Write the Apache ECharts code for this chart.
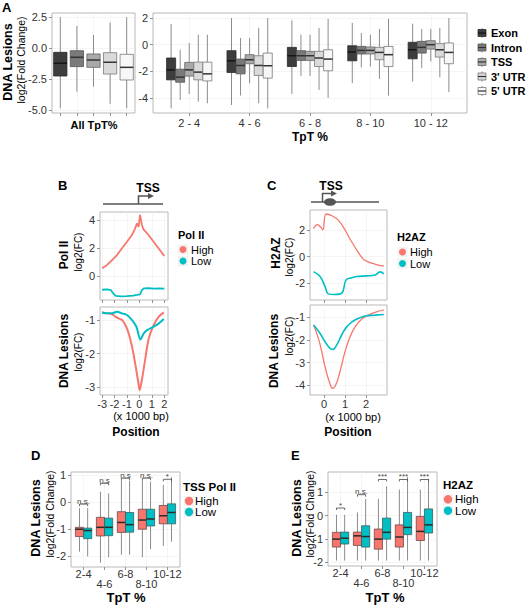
<!DOCTYPE html>
<html><head><meta charset="utf-8">
<script src="https://cdn.jsdelivr.net/npm/echarts@6/dist/echarts.min.js"></script>
<style>html,body{margin:0;padding:0;background:#fff}#c{width:528px;height:607px}</style>
</head><body><div id="c"></div>
<script>
const FONT = "'Liberation Sans', Arial, Helvetica, sans-serif";

// ---------- Panel A data: [min, q1, median, q3, max] ----------
const regionNames = ['Exon', 'Intron', 'TSS', "3' UTR", "5' UTR"];
const tptBins = ['2 - 4', '4 - 6', '6 - 8', '8 - 10', '10 - 12'];
const allTpTBoxes = [
  [-4.86, -2.26, -1.23, -0.35, 2.48],
  [-3.52, -1.50, -0.75, -0.22, 1.77],
  [-3.12, -1.56, -0.97, -0.48, 1.05],
  [-4.50, -2.10, -1.15, -0.38, 2.04],
  [-4.86, -2.58, -1.56, -0.51, 2.48]
];
const exonBoxes = [[-4.78,-2.64,-1.89,-1.00,1.56],[-4.53,-2.09,-1.21,-0.45,2.00],[-3.70,-1.64,-0.83,-0.20,1.83],[-2.89,-1.21,-0.55,-0.08,1.64],[-2.77,-1.06,-0.38,0.18,1.58]];
const intronBoxes = [[-4.15,-2.82,-2.44,-1.84,-0.38],[-3.82,-2.19,-1.56,-1.08,0.50],[-2.34,-1.18,-0.83,-0.45,0.75],[-1.71,-0.70,-0.43,-0.13,0.88],[-1.76,-0.63,-0.20,0.25,1.18]];
const tssBoxes = [[-3.70,-2.36,-1.89,-1.33,0.13],[-2.89,-1.43,-1.13,-0.75,0.50],[-2.34,-1.18,-0.83,-0.50,0.75],[-1.64,-0.70,-0.43,-0.17,0.75],[-1.26,-0.33,0.00,0.30,1.18]];
const utr3Boxes = [[-4.28,-2.64,-2.06,-1.31,0.75],[-4.40,-2.31,-1.56,-0.83,1.26],[-3.40,-1.64,-1.00,-0.50,1.26],[-2.57,-1.13,-0.58,-0.20,1.18],[-2.44,-0.93,-0.38,0.08,1.26]];
const utr5Boxes = [[-4.40,-2.72,-2.19,-1.31,0.75],[-4.78,-2.51,-1.58,-0.63,2.00],[-4.00,-1.96,-1.08,-0.38,1.94],[-3.82,-1.64,-0.75,-0.13,1.94],[-3.57,-1.43,-0.58,0.13,2.00]];

// ---------- Panel B data (position x 1000 bp) ----------
const polHighTopX = [-3.0,-2.6,-2.2,-1.8,-1.4,-1.0,-0.6,-0.34,-0.2,-0.07,0.05,0.2,0.33,0.73,1.14,1.54,2.0];
const polHighTopY = [0.55,0.79,1.14,1.5,1.98,2.45,2.93,3.4,3.76,3.5,4.36,3.64,3.33,2.93,2.45,1.98,1.43];
const polLowTopX = [-3.0,-2.6,-2.3,-2.1,-1.9,-1.5,-1.0,-0.5,-0.2,0.05,0.2,0.35,0.7,1.2,1.6,2.0];
const polLowTopY = [-0.98,-0.95,-1.0,-1.25,-1.42,-1.45,-1.43,-1.4,-1.35,-1.3,-1.0,-0.88,-0.87,-0.9,-0.88,-0.9];
const polHighLesX = [-3.0,-2.6,-2.2,-1.8,-1.4,-1.13,-0.86,-0.59,-0.32,-0.1,0.02,0.2,0.48,0.75,1.15,1.56,1.96];
const polHighLesY = [-0.77,-0.8,-0.83,-0.93,-1.0,-1.15,-1.4,-1.8,-2.34,-2.84,-3.09,-2.79,-2.14,-1.55,-1.15,-0.9,-0.77];
const polLowLesX = [-3.0,-2.6,-2.2,-1.8,-1.4,-1.0,-0.59,-0.24,0.08,0.35,0.62,1.15,1.56,1.96];
const polLowLesY = [-0.78,-0.8,-0.8,-0.75,-0.8,-0.85,-1.0,-1.2,-1.58,-1.4,-1.3,-1.2,-1.1,-0.97];

// ---------- Panel C data ----------
const h2azHighTopX = [-0.5,-0.32,-0.15,-0.06,0.1,0.4,0.7,1.0,1.3,1.6,1.85,2.1,2.45,2.85];
const h2azHighTopY = [2.1,2.4,2.2,2.0,3.2,3.05,2.7,2.0,1.15,0.4,-0.15,-0.4,-0.58,-0.72];
const h2azLowTopX = [-0.5,-0.19,0.05,0.2,0.5,0.84,1.05,1.3,1.56,2.03,2.43,2.67,2.85];
const h2azLowTopY = [-1.13,-1.5,-2.26,-2.8,-2.85,-2.75,-1.75,-1.6,-1.5,-1.45,-1.38,-1.15,-1.3];
const h2azHighLesX = [-0.5,-0.27,-0.11,0.05,0.25,0.41,0.57,0.76,1.0,1.24,1.48,1.8,2.11,2.5,2.85];
const h2azHighLesY = [-1.34,-1.93,-2.52,-3.19,-3.85,-4.14,-3.96,-3.4,-2.52,-1.86,-1.42,-1.07,-0.9,-0.75,-0.68];
const h2azLowLesX = [-0.5,-0.19,0.05,0.25,0.41,0.6,0.84,1.08,1.4,1.71,2.03,2.43,2.85];
const h2azLowLesY = [-1.34,-1.71,-2.08,-2.34,-2.42,-2.23,-1.78,-1.42,-1.16,-1.02,-0.93,-0.9,-0.87];

// ---------- Panels D/E data ----------
const tptShort = ['2-4', '4-6', '6-8', '8-10', '10-12'];
const dHighBoxes = [[-1.83,-1.27,-1.0,-0.93,-0.22],[-2.24,-1.25,-0.93,-0.56,0.39],[-1.95,-1.12,-0.75,-0.35,0.83],[-2.04,-1.0,-0.66,-0.26,0.83],[-1.62,-0.8,-0.5,-0.12,0.64]];
const dLowBoxes = [[-2.01,-1.35,-1.05,-0.96,-0.22],[-2.04,-1.24,-0.93,-0.59,0.33],[-1.95,-1.11,-0.83,-0.38,0.79],[-1.74,-0.88,-0.62,-0.26,0.76],[-1.46,-0.8,-0.38,-0.06,0.93]];
const dSigLabels = ['n.s.', 'n.s', 'n.s', 'n.s.', '*'];
const dSigY = [-0.07, 0.7, 0.89, 0.89, 0.85];
const eHighBoxes = [[-1.92,-1.34,-1.0,-0.71,0.04],[-1.92,-1.27,-0.86,-0.7,0.14],[-1.92,-1.43,-1.0,-0.57,0.72],[-1.92,-1.34,-0.91,-0.39,1.12],[-1.92,-1.06,-0.67,-0.03,1.12]];
const eLowBoxes = [[-1.92,-1.21,-0.96,-0.7,0.04],[-1.92,-1.34,-0.89,-0.43,0.72],[-1.92,-1.0,-0.71,-0.1,1.26],[-1.92,-0.81,-0.5,0.14,1.66],[-1.92,-0.74,-0.39,0.29,1.58]];
const eSigLabels = ['*', 'n.s.', '***', '***', '***'];
const eSigY = [0.33, 0.9, 1.55, 1.55, 1.55];

const RED = '#F8766D', CYAN = '#00BFC4';
const regionFill = ['#3d3d3d', '#7a7a7a', '#a9a9a9', '#dadada', '#f7f7f7'];
const regionStroke = ['#2a2a2a', '#555555', '#666666', '#777777', '#7a7a7a'];
const regionMedian = ['#151515', '#333333', '#333333', '#333333', '#333333'];

// ---------- helpers ----------
function boxSeries(name, gi, data, offset, w, fill, stroke, med, whisk) {
  return {
    type: 'custom', name, xAxisIndex: gi, yAxisIndex: gi, data,
    encode: { x: 0, y: [1, 2, 3, 4, 5] }, silent: true,
    renderItem(params, api) {
      const x = api.value(0) + offset;
      const c = (xx, yy) => api.coord([xx, yy]);
      const top = c(x, api.value(5)), q3 = c(x, api.value(4)), q1 = c(x, api.value(2)), bot = c(x, api.value(1));
      const L = c(x - w / 2, 0)[0], R = c(x + w / 2, 0)[0];
      const m = c(x, api.value(3))[1];
      return { type: 'group', children: [
        { type: 'line', shape: { x1: top[0], y1: top[1], x2: q3[0], y2: q3[1] }, style: { stroke: whisk, lineWidth: 1 } },
        { type: 'line', shape: { x1: q1[0], y1: q1[1], x2: bot[0], y2: bot[1] }, style: { stroke: whisk, lineWidth: 1 } },
        { type: 'rect', shape: { x: L, y: q3[1], width: R - L, height: q1[1] - q3[1] }, style: { fill, stroke, lineWidth: 0.8 } },
        { type: 'line', shape: { x1: L, y1: m, x2: R, y2: m }, style: { stroke: med, lineWidth: 1.5 } }
      ] };
    }
  };
}
function sigSeries(gi, ys, labels, half) {
  return {
    type: 'custom', xAxisIndex: gi, yAxisIndex: gi, silent: true,
    data: ys.map((y, i) => [i + 1, y]), encode: { x: 0, y: 1 },
    renderItem(params, api) {
      const i = params.dataIndex;
      const a = api.coord([api.value(0) - half, api.value(1)]);
      const b = api.coord([api.value(0) + half, api.value(1)]);
      return { type: 'group', children: [
        { type: 'polyline', shape: { points: [[a[0], a[1] + 2], [a[0], a[1]], [b[0], b[1]], [b[0], b[1] + 2]] }, style: { stroke: '#444', fill: null, lineWidth: 0.8 } },
        { type: 'text', style: { text: labels[i], x: (a[0] + b[0]) / 2, y: a[1] + 1, align: 'center', verticalAlign: 'bottom', textAlign: 'center', textVerticalAlign: 'bottom', font: '8px ' + FONT, fill: '#444' } }
      ] };
    }
  };
}
function lineSeries(gi, xs, ys, color, width, smooth) {
  return { type: 'line', xAxisIndex: gi, yAxisIndex: gi, data: xs.map((x, i) => [x, ys[i]]),
    showSymbol: false, smooth: smooth, lineStyle: { color, width }, itemStyle: { color }, silent: true };
}
function valAxis(gi, min, max, ticks, labelVals, fmt, labelExtra, axisExtra) {
  return Object.assign({
    type: 'value', gridIndex: gi, min, max,
    axisLine: { show: false, onZero: false },
    axisTick: { show: true, length: 3, customValues: ticks, lineStyle: { color: '#777', width: 0.8 } },
    axisLabel: Object.assign({ show: !!labelVals, customValues: labelVals || ticks, formatter: fmt, color: '#333', fontSize: 11, fontFamily: FONT, margin: 4, showMinLabel: true, showMaxLabel: true, hideOverlap: false }, labelExtra || {}),
    splitLine: { show: true, lineStyle: { color: '#eeeeee', width: 0.6 } }
  }, axisExtra || {});
}
const plain = v => String(v);
const catIdx = [1, 2, 3, 4, 5];

// ---------- grids ----------
const gridBase = { show: true, borderColor: '#b8b8b8', borderWidth: 1, backgroundColor: '#fff', containLabel: false };
const grids = [
  { left: 52, top: 13, width: 83, height: 100 },
  { left: 153, top: 13, width: 314, height: 100 },
  { left: 100, top: 212, width: 68, height: 88 },
  { left: 100, top: 307, width: 68, height: 88 },
  { left: 310, top: 210, width: 77, height: 90 },
  { left: 310, top: 305, width: 77, height: 90 },
  { left: 71, top: 472, width: 109, height: 95 },
  { left: 328, top: 472, width: 109, height: 94 }
].map(g => Object.assign({}, gridBase, g));

const shortFmt = v => tptShort[Math.round(v) - 1];
const bottomX = { position: 'bottom' };
const lowerRow = { position: 'bottom', offset: 10, axisTick: { show: false }, splitLine: { show: false } };
const xAxes = [
  valAxis(0, 0.5, 5.5, catIdx, null, plain, null, bottomX),
  valAxis(1, 0.4, 5.6, catIdx, catIdx, v => tptBins[Math.round(v) - 1], { margin: 4 }, bottomX),
  valAxis(2, -3.17, 2.3, [-3, -2, -1, 0, 1, 2], null, plain, null, bottomX),
  valAxis(3, -3.17, 2.3, [-3, -2, -1, 0, 1, 2], [-3, -2, -1, 0, 1, 2], plain, { margin: 3 }, bottomX),
  valAxis(4, -0.67, 3.0, [0, 1, 2], null, plain, null, bottomX),
  valAxis(5, -0.67, 3.0, [0, 1, 2], [0, 1, 2], plain, { margin: 3 }, bottomX),
  // D and E: odd categories on the first row, even ones on a second, lower row
  valAxis(6, 0.4, 5.6, catIdx, [1, 3, 5], shortFmt, { margin: 1 }, bottomX),
  valAxis(7, 0.4, 5.6, catIdx, [1, 3, 5], shortFmt, { margin: 1 }, bottomX),
  valAxis(6, 0.4, 5.6, [2, 4], [2, 4], shortFmt, { margin: 1 }, lowerRow),
  valAxis(7, 0.4, 5.6, [2, 4], [2, 4], shortFmt, { margin: 1 }, lowerRow)
];
const leftY = { position: 'left' };
const yAxes = [
  valAxis(0, -5.24, 2.82, [-5, -2.5, 0, 2.5], [-5, -2.5, 0, 2.5], v => v.toFixed(1), { margin: 5 }, leftY),
  valAxis(1, -5.13, 2.38, [-4, -2, 0, 2], [-4, -2, 0, 2], plain, { margin: 5 }, leftY),
  valAxis(2, -1.71, 4.57, [0, 2, 4], [0, 2, 4], plain, { margin: 5 }, leftY),
  valAxis(3, -3.24, -0.61, [-3, -2, -1], [-3, -2, -1], plain, { margin: 5 }, leftY),
  valAxis(4, -3.26, 3.5, [-2, 0, 2], [-2, 0, 2], plain, { margin: 5 }, leftY),
  valAxis(5, -4.44, -0.45, [-4, -3, -2, -1], [-4, -3, -2, -1], plain, { margin: 5 }, leftY),
  valAxis(6, -2.4, 1.12, [-2, -1, 0, 1], [-2, -1, 0, 1], plain, { margin: 5 }, leftY),
  valAxis(7, -2.15, 1.87, [-2, -1, 0, 1], [-2, -1, 0, 1], plain, { margin: 5 }, leftY)
];

// ---------- series ----------
const series = [];
allTpTBoxes.forEach((b, r) => series.push(boxSeries(regionNames[r], 0, [[r + 1].concat(b)], 0, 0.8, regionFill[r], regionStroke[r], regionMedian[r], '#8c8c8c')));
[exonBoxes, intronBoxes, tssBoxes, utr3Boxes, utr5Boxes].forEach((arr, r) => {
  series.push(boxSeries(regionNames[r], 1, arr.map((b, c) => [c + 1].concat(b)), (r - 2) * 0.15, 0.15, regionFill[r], regionStroke[r], regionMedian[r], '#8c8c8c'));
});
series.push(lineSeries(2, polHighTopX, polHighTopY, RED, 1.8, false));
series.push(lineSeries(2, polLowTopX, polLowTopY, CYAN, 1.8, false));
series.push(lineSeries(3, polHighLesX, polHighLesY, RED, 2, 0.3));
series.push(lineSeries(3, polLowLesX, polLowLesY, CYAN, 2, 0.3));
series.push(lineSeries(4, h2azHighTopX, h2azHighTopY, RED, 1.3, 0.4));
series.push(lineSeries(4, h2azLowTopX, h2azLowTopY, CYAN, 1.6, 0.4));
series.push(lineSeries(5, h2azHighLesX, h2azHighLesY, RED, 1.3, 0.5));
series.push(lineSeries(5, h2azLowLesX, h2azLowLesY, CYAN, 1.6, 0.5));
const dodge = 0.195, bw = 0.39;
series.push(boxSeries('High', 6, dHighBoxes.map((b, c) => [c + 1].concat(b)), -dodge, bw, RED, '#6b4a48', '#2a2a2a', '#8c8c8c'));
series.push(boxSeries('Low', 6, dLowBoxes.map((b, c) => [c + 1].concat(b)), dodge, bw, CYAN, '#3c5f60', '#2a2a2a', '#8c8c8c'));
series.push(sigSeries(6, dSigY, dSigLabels, dodge));
series.push(boxSeries('High', 7, eHighBoxes.map((b, c) => [c + 1].concat(b)), -dodge, bw, RED, '#6b4a48', '#2a2a2a', '#8c8c8c'));
series.push(boxSeries('Low', 7, eLowBoxes.map((b, c) => [c + 1].concat(b)), dodge, bw, CYAN, '#3c5f60', '#2a2a2a', '#8c8c8c'));
series.push(sigSeries(7, eSigY, eSigLabels, dodge));

// ---------- graphic (titles, legends, TSS schematics) ----------
const G = [];
function txt(text, x, y, size, bold, opts) {
  const o = Object.assign({ align: 'center', vAlign: 'middle', rot: 0, color: '#000' }, opts || {});
  G.push({ type: 'text', x, y, rotation: o.rot, silent: true,
    style: { text, x: 0, y: 0, font: (bold ? 'bold ' : '') + size + 'px ' + FONT, fill: o.color,
      align: o.align, verticalAlign: o.vAlign, textAlign: o.align, textVerticalAlign: o.vAlign } });
}
const R90 = Math.PI / 2;
// panel letters
txt('A', 2, 7, 13, true, { align: 'left' });
txt('B', 58, 185, 13, true, { align: 'left' });
txt('C', 267, 185, 13, true, { align: 'left' });
txt('D', 31, 455, 13, true, { align: 'left' });
txt('E', 291, 455, 13, true, { align: 'left' });
// A titles
txt('DNA Lesions', 8, 62, 12.5, true, { rot: R90 });
txt('log2(Fold Change)', 21, 60, 10.5, false, { rot: R90 });
txt('All TpT%', 94, 125, 11, true);
txt('TpT %', 310, 137, 12, true);
// A legend
regionNames.forEach((n, r) => {
  const y = 33 + r * 14.5;
  G.push({ type: 'line', silent: true, shape: { x1: 482, y1: y - 5, x2: 482, y2: y + 5 }, style: { stroke: '#8c8c8c', lineWidth: 1 } });
  G.push({ type: 'rect', silent: true, shape: { x: 478, y: y - 3.5, width: 8, height: 7 }, style: { fill: regionFill[r], stroke: regionStroke[r], lineWidth: 0.8 } });
  G.push({ type: 'line', silent: true, shape: { x1: 478, y1: y, x2: 486, y2: y }, style: { stroke: regionMedian[r], lineWidth: 1.2 } });
  txt(n, 491, y, 11, true, { align: 'left' });
});
// B titles
txt('Pol II', 64, 255, 12, true, { rot: R90 });
txt('log2(FC)', 78, 252, 10, false, { rot: R90 });
txt('DNA Lesions', 64, 351, 12, true, { rot: R90 });
txt('log2(FC)', 78, 352, 10, false, { rot: R90 });
txt('(x 1000 bp)', 141, 416, 11, false);
txt('Position', 136, 432, 12, true);
// B TSS schematic
txt('TSS', 148, 188, 12, true);
G.push({ type: 'line', silent: true, shape: { x1: 103, y1: 204, x2: 163, y2: 204 }, style: { stroke: '#555', lineWidth: 1.5 } });
G.push({ type: 'polyline', silent: true, shape: { points: [[138.5, 204], [138.5, 196], [149, 196]] }, style: { stroke: '#555', lineWidth: 1.5, fill: null } });
G.push({ type: 'polygon', silent: true, shape: { points: [[148, 193], [154, 196], [148, 199]] }, style: { fill: '#555' } });
// C titles
txt('H2AZ', 276, 253, 12, true, { rot: R90 });
txt('log2(FC)', 289, 257, 10, false, { rot: R90 });
txt('DNA Lesions', 274, 351, 12, true, { rot: R90 });
txt('log2(FC)', 289, 336, 10, false, { rot: R90 });
txt('(x 1000 bp)', 353, 417, 11, false);
txt('Position', 348, 432, 12, true);
// C TSS schematic
txt('TSS', 331, 186, 12, true);
G.push({ type: 'line', silent: true, shape: { x1: 311, y1: 202, x2: 379, y2: 202 }, style: { stroke: '#555', lineWidth: 1.5 } });
G.push({ type: 'polyline', silent: true, shape: { points: [[322.5, 202], [322.5, 193.5], [332, 193.5]] }, style: { stroke: '#555', lineWidth: 1.5, fill: null } });
G.push({ type: 'polygon', silent: true, shape: { points: [[331, 190.5], [337, 193.5], [331, 196.5]] }, style: { fill: '#555' } });
G.push({ type: 'ellipse', silent: true, shape: { cx: 330, cy: 202, rx: 6, ry: 3.8 }, style: { fill: '#555' } });
// D/E titles
txt('DNA Lesions', 36, 518, 12.5, true, { rot: R90 });
txt('log2(Fold Change)', 50, 514, 10.5, false, { rot: R90 });
txt('TpT %', 126, 597, 13, true);
txt('DNA Lesions', 297, 518, 12.5, true, { rot: R90 });
txt('log2(Fold Change)', 310, 514, 10.5, false, { rot: R90 });
txt('TpT %', 385, 597, 13, true);
// High/Low legends
function hlLegend(title, tx, ty, kx, ky1, ky2, kSize, r, lx, fs) {
  txt(title, tx, ty, fs, true, { align: 'left' });
  [[ky1, RED, 'High'], [ky2, CYAN, 'Low']].forEach(([ky, col, lab]) => {
    G.push({ type: 'rect', silent: true, shape: { x: kx - kSize / 2, y: ky - kSize / 2, width: kSize, height: kSize }, style: { fill: '#f2f2f2', stroke: '#ffffff', lineWidth: 0.8 } });
    G.push({ type: 'circle', silent: true, shape: { cx: kx, cy: ky, r }, style: { fill: col } });
    txt(lab, lx, ky, fs, false, { align: 'left' });
  });
}
hlLegend('Pol II', 178, 235, 183, 249.5, 261, 11, 3.5, 191, 11);
hlLegend('H2AZ', 397, 237, 402.5, 252, 263.5, 11, 3.5, 410, 11);
hlLegend('TSS Pol II', 183, 487, 189, 501, 512, 11, 4.2, 195, 11.5);
hlLegend('H2AZ', 443, 485, 448, 499.3, 510.7, 11, 4.2, 455, 11.5);

const chart = echarts.init(document.getElementById('c'), null, { renderer: 'svg', width: 528, height: 607 });
chart.setOption({
  animation: false,
  backgroundColor: '#fff',
  textStyle: { fontFamily: FONT },
  grid: grids, xAxis: xAxes, yAxis: yAxes, series, graphic: G
});
</script></body></html>
